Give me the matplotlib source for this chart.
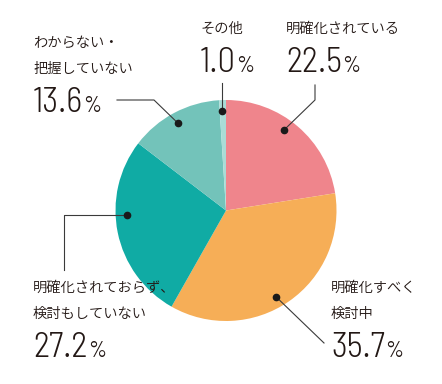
import numpy as np
import matplotlib
matplotlib.use('Agg')
import matplotlib.pyplot as plt

plt.rcParams['font.family'] = ['Noto Sans CJK JP', 'DejaVu Sans']

# データ
values = [22.5, 35.7, 27.2, 13.6, 1.0]
names = [['明確化されている'], ['明確化すべく', '検討中'], ['明確化されておらず、', '検討もしていない'],
         ['わからない・', '把握していない'], ['その他']]
colors = ['#EF858C', '#F6AE57', '#10ABA4', '#73C3BA', '#A9DCD6']

W, H = 442, 384
fig = plt.figure(figsize=(W / 100, H / 100), dpi=100)
ax = fig.add_axes([0, 0, 1, 1])

cx, cy, R = 226, H - 210.5, 110.5
ax.pie(values, colors=colors, startangle=90, counterclock=False,
       center=(cx, cy), radius=R, wedgeprops=dict(linewidth=0))
ax.set_xlim(0, W)
ax.set_ylim(0, H)
ax.set_aspect('equal')
ax.axis('off')

txt = '#231815'
num_font = 'Barlow Semi Condensed'
# ラベル位置 (左端x, 数値ベースラインy 画面座標)
lab_x = [286, 331, 33, 33, 200]
num_base = [72, 357, 357, 112, 72]
# 引き出し線
ang_shift = [-4.7, 4.7, 9.0, -0.7, -0.6]
elbows = [[(315, 100), (315, 85)], [(324, 343)], [('L', 64), (64, 270)],
          [(154, 100), (117, 100)], [('V', 83)]]

renderer = fig.canvas.get_renderer()
cum = 0
for i, v in enumerate(values):
    mid = cum + v / 2
    cum += v
    a = np.deg2rad(90 - mid / 100 * 360 - ang_shift[i])
    dx, dy = cx + 0.9 * R * np.cos(a), cy + 0.9 * R * np.sin(a)
    pts = [(dx, dy)]
    for e in elbows[i]:
        if e[0] == 'L':
            pts.append((e[1], dy))
        elif e[0] == 'V':
            pts.append((dx, H - e[1]))
        else:
            pts.append((e[0], H - e[1]))
    xs, ys = zip(*pts)
    ax.plot(xs, ys, color='#3a3a3a', lw=0.8, zorder=3)
    ax.plot(dx, dy, 'o', color='#1a1a1a', ms=4.5, zorder=4)

    # テキスト
    nlines = names[i]
    yb = num_base[i]
    for j, line in enumerate(nlines):
        yc = yb - 43 - 26 * (len(nlines) - 1 - j)
        ax.text(lab_x[i], H - yc, line, fontsize=10.3, color=txt, va='center', ha='left',
                fontweight=350)
    t = ax.text(lab_x[i], H - yb, f'{v:.1f}', fontsize=25, color=txt,
                va='baseline', ha='left', family=num_font, fontweight=300)
    bb = t.get_window_extent(renderer)
    ax.text(bb.x1 + 0.5, H - yb, '%', fontsize=16, color=txt, va='baseline', ha='left',
            family=num_font, fontweight=400)

fig.savefig('out.png', dpi=100)
